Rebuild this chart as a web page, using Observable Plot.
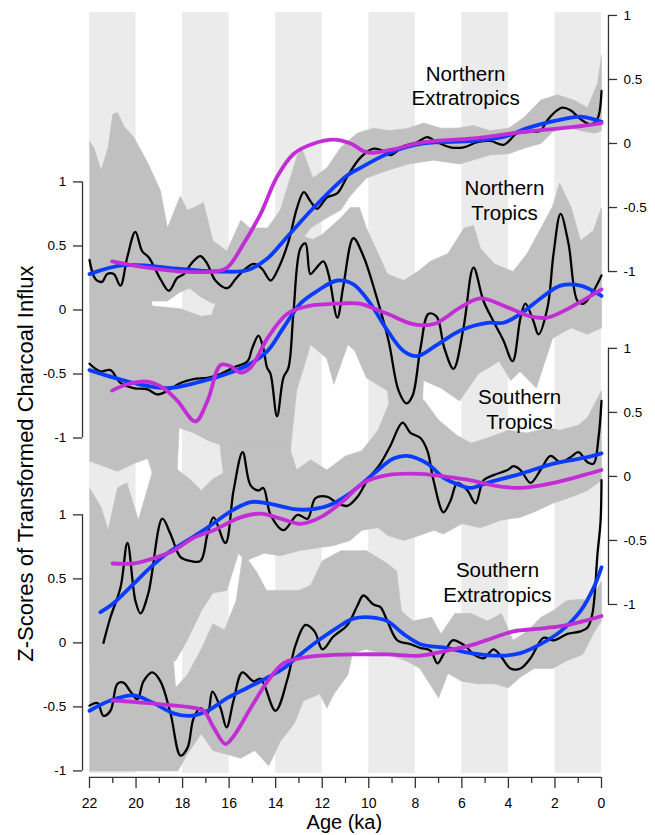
<!DOCTYPE html>
<html><head><meta charset="utf-8">
<script src="https://cdn.jsdelivr.net/npm/d3@7"></script>
<script src="https://cdn.jsdelivr.net/npm/@observablehq/plot@0.6"></script>
<style>
body{margin:0;background:#fff;font-family:"Liberation Sans",Arial,sans-serif;}
#chart svg{display:block;}
</style></head><body><div id="chart"></div>
<script>
// ---------- DATA: [age (ka), z-score] ----------
// Northern Extratropics
const neBlack = [[22.0,-0.91],[21.74,-1.06],[21.46,-1.08],[21.24,-1.02],[20.96,-1.02],[20.67,-1.11],[20.38,-0.89],[20.03,-0.69],[19.74,-0.84],[19.45,-0.89],[18.95,-1.06],[18.59,-1.15],[18.23,-1.05],[17.95,-1.02],[17.59,-0.93],[17.23,-0.88],[16.94,-0.94],[16.59,-1.07],[16.08,-1.13],[15.73,-1.06],[15.37,-0.99],[14.94,-0.94],[14.58,-0.98],[14.22,-1.07],[13.87,-0.97],[13.44,-0.76],[13.08,-0.50],[12.79,-0.38],[12.51,-0.45],[12.22,-0.51],[11.79,-0.42],[11.36,-0.39],[10.93,-0.26],[10.36,-0.11],[9.79,-0.04],[9.36,-0.06],[9.07,-0.09],[8.50,-0.02],[7.92,0.01],[7.49,0.05],[7.06,0.01],[6.49,-0.03],[5.92,-0.03],[5.34,0.01],[4.77,0.02],[4.20,-0.01],[3.62,0.08],[3.05,0.09],[2.62,0.10],[2.33,0.18],[1.90,0.26],[1.69,0.28],[1.33,0.26],[0.90,0.19],[0.47,0.15],[0.18,0.19],[0,0.41]];
const neBlue = [[22.0,-1.02],[20.53,-0.95],[18.09,-0.98],[16.37,-1.0],[15.23,-0.99],[14.37,-0.90],[13.51,-0.73],[12.36,-0.50],[10.93,-0.25],[10.36,-0.19],[9.07,-0.07],[7.64,0.0],[5.49,0.02],[4.05,0.06],[3.19,0.12],[1.90,0.18],[0.90,0.21],[0,0.17]];
const neMagenta = [[21.03,-0.92],[19.52,-0.97],[18.09,-1.0],[16.66,-1.0],[16.09,-0.97],[15.37,-0.78],[14.65,-0.55],[13.94,-0.26],[13.22,-0.08],[12.36,0.0],[11.50,0.03],[10.78,0.0],[10.07,-0.07],[9.07,-0.05],[7.64,0.01],[5.49,0.04],[3.34,0.09],[1.19,0.13],[0,0.16]];
const neHi = [[22.0,0.02],[21.8,-0.04],[21.5,-0.21],[21.2,-0.03],[21.0,0.23],[20.8,0.24],[20.5,0.13],[20.1,0.05],[19.5,-0.15],[18.95,-0.37],[18.65,-0.66],[18.1,-0.41],[17.8,-0.52],[17.5,-0.50],[17.1,-0.46],[16.7,-0.76],[16.1,-0.84],[15.5,-0.60],[15.1,-0.66],[14.35,-0.66],[13.8,-0.52],[13.05,-0.08],[12.85,-0.05],[12.4,-0.27],[11.8,-0.19],[11.2,-0.03],[10.5,0.08],[9.8,0.12],[9.1,0.10],[8.3,0.12],[7.65,0.16],[6.9,0.12],[6.2,0.12],[5.5,0.14],[4.8,0.10],[4.0,0.12],[3.35,0.20],[2.6,0.34],[1.9,0.38],[1.2,0.34],[0.6,0.28],[0.17,0.47],[0,0.69]];
const neLo = [[22.0,-1.23],[19.4,-1.23],[18.65,-1.23],[18.1,-1.16],[17.7,-1.13],[17.2,-1.20],[16.7,-1.25],[15.1,-1.19],[14.2,-1.15],[13.8,-0.95],[12.9,-0.76],[12.5,-0.66],[11.8,-0.58],[11.2,-0.52],[10.8,-0.41],[10.1,-0.27],[9.2,-0.21],[8.3,-0.16],[7.2,-0.13],[6.1,-0.16],[4.8,-0.09],[4.0,-0.08],[3.2,-0.03],[2.6,0.0],[2.1,0.09],[1.5,0.13],[0.9,0.10],[0.3,0.08],[0,0.10]];

// Northern Tropics
const ntBlack = [[22.0,-0.42],[21.53,-0.48],[21.10,-0.47],[20.67,-0.57],[20.11,-0.61],[19.51,-0.62],[19.08,-0.66],[18.65,-0.63],[18.09,-0.57],[17.53,-0.54],[16.93,-0.53],[16.37,-0.50],[15.81,-0.45],[15.21,-0.40],[15.01,-0.30],[14.74,-0.20],[14.53,-0.30],[14.37,-0.45],[14.22,-0.50],[13.94,-0.83],[13.67,-0.53],[13.45,-0.45],[13.24,-0.03],[12.94,0.48],[12.72,0.52],[12.51,0.28],[12.29,0.32],[11.95,0.38],[11.73,0.28],[11.35,-0.06],[11.09,0.19],[10.66,0.56],[10.23,0.42],[9.71,0.13],[9.15,-0.24],[8.72,-0.63],[8.38,-0.73],[8.12,-0.67],[7.78,-0.30],[7.43,-0.03],[7.09,-0.05],[6.75,-0.30],[6.36,-0.46],[5.93,-0.14],[5.50,0.33],[5.07,0.07],[4.64,-0.09],[4.21,-0.24],[3.82,-0.40],[3.48,-0.06],[3.27,0.05],[2.92,-0.09],[2.71,-0.19],[2.32,0.02],[2.06,0.44],[1.76,0.75],[1.42,0.52],[1.03,0.07],[0.77,0.05],[0.34,0.15],[0,0.27]];
const ntBlue = [[22.0,-0.47],[20.11,-0.57],[18.65,-0.61],[17.23,-0.56],[15.81,-0.48],[15.08,-0.42],[14.35,-0.32],[13.67,-0.14],[12.94,0.05],[12.20,0.15],[11.35,0.23],[10.66,0.20],[9.93,0.05],[9.20,-0.16],[8.51,-0.32],[7.91,-0.36],[7.05,-0.27],[6.06,-0.16],[4.90,-0.10],[4.21,-0.10],[3.48,-0.03],[2.62,0.09],[1.76,0.19],[0.90,0.19],[0,0.11]];
const ntMagenta = [[21.03,-0.63],[20.38,-0.58],[19.52,-0.56],[18.82,-0.61],[18.22,-0.71],[17.45,-0.87],[16.93,-0.71],[16.37,-0.43],[15.94,-0.44],[15.51,-0.49],[15.08,-0.45],[14.35,-0.22],[13.5,-0.03],[12.6,0.03],[11.2,0.05],[10.4,0.05],[9.2,-0.03],[8.1,-0.11],[7.2,-0.11],[6.06,0.02],[5.20,0.09],[4.04,0.02],[3.05,-0.05],[2.32,-0.06],[1.33,0.02],[0,0.16]];
const ntHi = [[22.0,0.13],[19.4,0.12],[19.3,0.03],[18.1,0.01],[17.2,-0.05],[16.75,-0.04],[16.4,0.15],[15.1,0.20],[13.8,0.35],[12.9,0.58],[12.4,0.55],[12.0,0.59],[11.2,0.72],[10.8,0.80],[10.4,0.80],[10.1,0.64],[9.6,0.44],[9.2,0.28],[8.5,0.23],[7.9,0.30],[7.35,0.38],[6.6,0.44],[5.9,0.64],[5.5,0.66],[5.2,0.48],[4.6,0.36],[3.8,0.30],[3.2,0.44],[2.6,0.64],[2.1,0.81],[1.8,0.99],[1.3,0.80],[0.9,0.54],[0.35,0.62],[0,0.80]];
const ntLo = [[22.0,-1.18],[20.8,-1.26],[20.1,-1.20],[19.5,-1.16],[18.9,-1.5],[18.3,-1.5],[18.15,-0.92],[17.5,-0.96],[16.9,-1.02],[16.4,-1.05],[16.1,-1.5],[13.6,-1.5],[13.1,-0.63],[12.5,-0.27],[11.8,-0.38],[11.5,-0.58],[10.9,-0.27],[10.6,-0.32],[10.1,-0.53],[9.2,-0.63],[8.9,-1.10],[7.8,-1.10],[7.65,-0.55],[6.9,-0.61],[6.1,-0.71],[5.3,-0.50],[4.4,-0.40],[3.9,-0.55],[3.5,-0.48],[2.8,-0.61],[2.1,-0.22],[1.3,-0.14],[0.6,-0.19],[0,-0.14]];

// Southern Tropics
const stBlack = [[21.40,-1.30],[21.10,-1.10],[20.67,-0.87],[20.37,-0.52],[20.03,-0.97],[19.81,-1.07],[19.47,-0.91],[18.87,-0.33],[18.52,-0.45],[18.09,-0.63],[17.66,-0.66],[17.23,-0.66],[16.93,-0.45],[16.67,-0.32],[16.16,-0.52],[15.81,-0.11],[15.42,0.19],[15.08,-0.07],[14.74,-0.11],[14.53,-0.09],[14.22,-0.30],[13.67,-0.42],[13.06,-0.30],[12.63,-0.33],[12.29,-0.17],[11.77,-0.16],[11.35,-0.21],[10.92,-0.23],[10.49,-0.16],[10.06,-0.03],[9.50,0.10],[9.07,0.24],[8.55,0.42],[8.21,0.34],[7.78,0.30],[7.48,0.20],[7.22,-0.03],[6.79,-0.28],[6.49,-0.19],[6.19,-0.05],[5.76,-0.11],[5.41,-0.21],[5.07,-0.03],[4.64,0.01],[4.04,0.05],[3.78,0.08],[3.48,0.05],[3.05,-0.05],[2.62,0.05],[2.19,0.16],[1.76,0.11],[1.33,0.15],[0.99,0.19],[0.60,0.11],[0.34,0.10],[0.13,0.30],[0,0.59]];
const stBlue = [[21.53,-1.06],[20.97,-0.99],[20.11,-0.84],[19.38,-0.71],[18.65,-0.60],[17.79,-0.50],[16.93,-0.40],[15.81,-0.26],[15.08,-0.20],[14.35,-0.21],[12.94,-0.26],[11.77,-0.23],[10.79,-0.13],[9.80,0.02],[8.94,0.14],[8.34,0.16],[7.48,0.10],[6.79,-0.01],[6.06,-0.07],[5.63,-0.09],[4.90,-0.05],[3.48,0.02],[2.06,0.10],[0.60,0.15],[0,0.18]];
const stMagenta = [[21.01,-0.68],[20.11,-0.68],[19.25,-0.64],[18.39,-0.58],[17.53,-0.48],[16.67,-0.42],[15.51,-0.32],[14.65,-0.29],[13.79,-0.33],[12.94,-0.37],[12.08,-0.32],[11.09,-0.19],[10.23,-0.05],[9.20,0.01],[7.78,0.02],[6.36,-0.01],[5.63,-0.03],[4.64,-0.07],[3.48,-0.09],[2.06,-0.05],[0.77,0.01],[0,0.05]];
const stHi = [[22.0,-0.09],[21.5,-0.24],[21.2,-0.42],[20.8,-0.09],[20.4,-0.05],[19.9,-0.34],[19.5,-0.09],[18.9,0.28],[18.2,0.05],[17.7,-0.02],[17.2,-0.11],[16.7,-0.02],[16.2,0.03],[15.9,0.28],[13.5,0.28],[13.1,0.05],[12.5,0.13],[11.8,0.05],[11.0,0.16],[10.3,0.20],[9.6,0.36],[9.0,0.63],[8.4,0.75],[8.0,0.63],[7.6,0.59],[7.0,0.44],[6.2,0.32],[5.6,0.26],[4.9,0.30],[4.0,0.36],[3.2,0.34],[2.3,0.38],[1.8,0.36],[1.0,0.40],[0.6,0.46],[0,0.67]];
const stLo = [[22.0,-1.44],[18.3,-1.44],[17.8,-1.28],[17.2,-1.05],[16.7,-0.91],[16.1,-0.89],[15.6,-0.60],[15.3,-0.66],[14.5,-0.60],[13.8,-0.62],[13.0,-0.58],[12.3,-0.56],[11.5,-0.54],[10.8,-0.50],[10.3,-0.42],[9.6,-0.40],[9.2,-0.46],[8.5,-0.50],[7.8,-0.46],[7.2,-0.42],[6.8,-0.45],[6.0,-0.37],[5.2,-0.40],[4.3,-0.34],[3.5,-0.32],[2.8,-0.27],[2.1,-0.21],[1.3,-0.16],[0.6,-0.11],[0,-0.03]];

// Southern Extratropics
const seBlack = [[22.0,-0.49],[21.66,-0.47],[21.40,-0.57],[21.10,-0.53],[20.80,-0.32],[20.54,-0.31],[20.24,-0.38],[19.94,-0.44],[19.68,-0.30],[19.30,-0.23],[18.95,-0.30],[18.52,-0.55],[18.09,-0.88],[17.79,-0.82],[17.53,-0.59],[17.23,-0.51],[16.93,-0.55],[16.72,-0.38],[16.37,-0.51],[16.11,-0.66],[15.81,-0.45],[15.43,-0.23],[14.95,-0.30],[14.65,-0.28],[14.01,-0.53],[13.49,-0.28],[13.15,-0.02],[12.72,0.14],[12.33,0.09],[11.99,-0.05],[11.52,0.05],[10.92,0.14],[10.49,0.29],[10.23,0.37],[9.80,0.30],[9.50,0.28],[9.20,0.17],[8.77,0.02],[8.21,-0.01],[7.78,-0.04],[7.35,-0.06],[7.05,-0.16],[6.79,-0.09],[6.40,0.02],[6.06,0.0],[5.76,-0.04],[5.50,-0.09],[5.07,-0.12],[4.64,-0.05],[4.34,-0.10],[3.91,-0.20],[3.48,-0.20],[3.05,-0.12],[2.49,0.04],[2.06,0.02],[1.46,0.07],[0.90,0.09],[0.60,0.12],[0.39,0.23],[0.17,0.70],[0.04,0.95],[0,1.27]];
const seBlue = [[22.0,-0.53],[21.10,-0.45],[20.11,-0.41],[19.25,-0.47],[18.39,-0.55],[17.66,-0.57],[16.93,-0.53],[16.07,-0.43],[15.21,-0.35],[14.35,-0.27],[13.67,-0.20],[12.94,-0.09],[12.08,0.03],[11.35,0.12],[10.66,0.19],[9.93,0.20],[9.20,0.17],[8.51,0.07],[7.78,-0.01],[6.62,-0.04],[5.63,-0.08],[4.34,-0.10],[3.48,-0.08],[2.62,-0.01],[1.76,0.09],[0.90,0.25],[0.34,0.43],[0,0.59]];
const seMagenta = [[21.01,-0.45],[20.11,-0.46],[18.95,-0.48],[17.79,-0.50],[17.10,-0.53],[16.67,-0.66],[16.16,-0.79],[15.81,-0.73],[15.08,-0.51],[14.35,-0.30],[13.67,-0.16],[12.94,-0.12],[12.08,-0.10],[10.66,-0.09],[9.20,-0.09],[7.78,-0.10],[6.62,-0.06],[5.63,-0.02],[4.64,0.04],[3.78,0.09],[2.75,0.11],[1.76,0.13],[0.77,0.17],[0,0.21]];
const seHi = [[22.0,0.48],[20.0,0.41],[18.6,0.33],[18.3,-0.35],[17.8,-0.25],[17.2,-0.05],[16.7,0.15],[16.2,0.10],[15.7,0.33],[15.4,0.70],[14.8,0.55],[14.4,0.41],[13.0,0.41],[12.5,0.45],[12.0,0.64],[11.2,0.72],[10.1,0.72],[9.2,0.62],[8.8,0.56],[8.6,0.25],[8.1,0.17],[7.3,0.20],[6.9,0.07],[6.3,0.23],[5.6,0.23],[4.9,0.17],[4.3,0.23],[3.8,0.02],[3.2,0.09],[2.6,0.20],[2.1,0.25],[1.5,0.33],[0.9,0.34],[0.5,0.33],[0,0.48]];
const seLo = [[22.0,-1.0],[18.2,-1.0],[17.8,-0.87],[17.2,-0.71],[16.7,-0.84],[15.5,-0.90],[14.9,-0.84],[14.3,-0.96],[13.8,-0.77],[13.2,-0.63],[12.8,-0.45],[12.1,-0.40],[11.8,-0.51],[11.5,-0.40],[10.9,-0.25],[10.7,-0.08],[10.1,-0.05],[9.2,-0.09],[8.4,-0.14],[7.8,-0.20],[7.0,-0.43],[6.6,-0.24],[6.0,-0.30],[5.3,-0.32],[4.6,-0.32],[4.0,-0.35],[3.5,-0.27],[2.9,-0.20],[2.1,-0.20],[1.5,-0.14],[0.8,-0.09],[0.3,0.09],[0,0.17]];

const panelNames = ["Northern\nExtratropics", "Northern\nTropics", "Southern\nTropics", "Southern\nExtratropics"];
const yTickValues = [-1, -0.5, 0, 0.5, 1];
const yTickLabels = ["-1", "-0.5", "0", "0.5", "1"];
const xTickValues = d3.range(0, 23, 1);
const stripeStarts = [22, 18, 14, 10, 6, 2];

// ---------- LAYOUT ----------
const STEP = 1.3;              // vertical offset between stacked panels (z units)
const Y_TOP = 1.023, Y_BOTTOM = -4.92;
const panels = [
  {name: panelNames[0], side: "right", black: neBlack, blue: neBlue, magenta: neMagenta, hi: neHi, lo: neLo, lx: 5.84, ly: 0.455},
  {name: panelNames[1], side: "left",  black: ntBlack, blue: ntBlue, magenta: ntMagenta, hi: ntHi, lo: ntLo, lx: 4.17, ly: 0.86},
  {name: panelNames[2], side: "right", black: stBlack, blue: stBlue, magenta: stMagenta, hi: stHi, lo: stLo, lx: 3.52, ly: 0.53},
  {name: panelNames[3], side: "left",  black: seBlack, blue: seBlue, magenta: seMagenta, hi: seHi, lo: seLo, lx: 4.47, ly: 0.48}
];
panels.forEach((p, k) => p.off = -STEP * k);

const pts = (arr, off) => arr.map(([a, v]) => ({age: a, y: v + off}));
const FONT = "Liberation Sans, Arial, Helvetica, sans-serif";
const AX = "#333";

const marks = [];
// light vertical stripes
marks.push(Plot.rect(stripeStarts, {x1: d => d, x2: d => d - 2, y1: Y_BOTTOM, y2: Y_TOP, fill: "#ebebeb"}));
// uncertainty bands
for (const p of panels) {
  const poly = [...pts(p.hi, p.off), ...pts(p.lo, p.off).reverse()];
  marks.push(Plot.line(poly, {x: "age", y: "y", fill: "#c0c0c0", stroke: "#c0c0c0", strokeWidth: 0.6, curve: "linear"}));
}
// series lines
for (const p of panels) {
  marks.push(Plot.line(pts(p.black, p.off), {x: "age", y: "y", stroke: "#000", strokeWidth: 2.3, curve: "catmull-rom"}));
}
for (const p of panels) {
  marks.push(Plot.line(pts(p.blue, p.off), {x: "age", y: "y", stroke: "#0a3cff", strokeWidth: 3.8, curve: "catmull-rom"}));
  marks.push(Plot.line(pts(p.magenta, p.off), {x: "age", y: "y", stroke: "#c22dd6", strokeWidth: 3.8, curve: "catmull-rom"}));
}
// panel titles
for (const p of panels) {
  marks.push(Plot.text([p.name], {x: p.lx, y: p.ly + p.off, text: d => d, fontSize: 20.5, lineHeight: 1.2, fill: "#000", fontFamily: FONT}));
}
// y axes (alternating sides)
const L = {line: 22.30, tick: 22.69, label: 23.0};
const R = {line: -0.30, tick: -0.69, label: -0.95};
for (const p of panels) {
  const s = p.side === "left" ? L : R;
  marks.push(Plot.ruleX([s.line], {x: d => d, y1: -1 + p.off, y2: 1 + p.off, stroke: AX, strokeWidth: 1.3}));
  marks.push(Plot.ruleY(yTickValues, {y: d => d + p.off, x1: s.line, x2: s.tick, stroke: AX, strokeWidth: 1.3}));
  marks.push(Plot.text(yTickValues, {x: s.label, y: d => d + p.off, text: (d, i) => yTickLabels[i],
    textAnchor: p.side === "left" ? "end" : "start", fontSize: 13.5, fill: "#000", fontFamily: FONT}));
}
// x axis
const XA = {line: -4.951, major: -5.037, minor: -4.998, label: -5.154, title: -5.302};
marks.push(Plot.ruleY([XA.line], {y: d => d, x1: 22, x2: 0, stroke: AX, strokeWidth: 1.3}));
marks.push(Plot.ruleX(xTickValues, {x: d => d, y1: XA.line, y2: d => d % 2 === 0 ? XA.major : XA.minor, stroke: AX, strokeWidth: 1.3}));
marks.push(Plot.text(xTickValues.filter(d => d % 2 === 0), {x: d => d, y: XA.label, text: d => String(d), fontSize: 14, fill: "#000", fontFamily: FONT}));
marks.push(Plot.text(["Age (ka)"], {x: 11.05, y: XA.title, text: d => d, fontSize: 20, fill: "#000", fontFamily: FONT}));
marks.push(Plot.text(["Z-Scores of Transformed Charcoal Influx"], {x: 24.75, y: -2.5, text: d => d, rotate: -90, fontSize: 22, fill: "#000", fontFamily: FONT}));

const chart = Plot.plot({
  width: 655, height: 835,
  marginLeft: 89, marginRight: 54, marginTop: 12, marginBottom: 62,
  x: {domain: [22, 0], axis: null},
  y: {domain: [Y_BOTTOM, Y_TOP], axis: null},
  style: {fontFamily: FONT, background: "#fff", overflow: "visible"},
  marks
});
document.getElementById("chart").appendChild(chart);
</script>
</body></html>
